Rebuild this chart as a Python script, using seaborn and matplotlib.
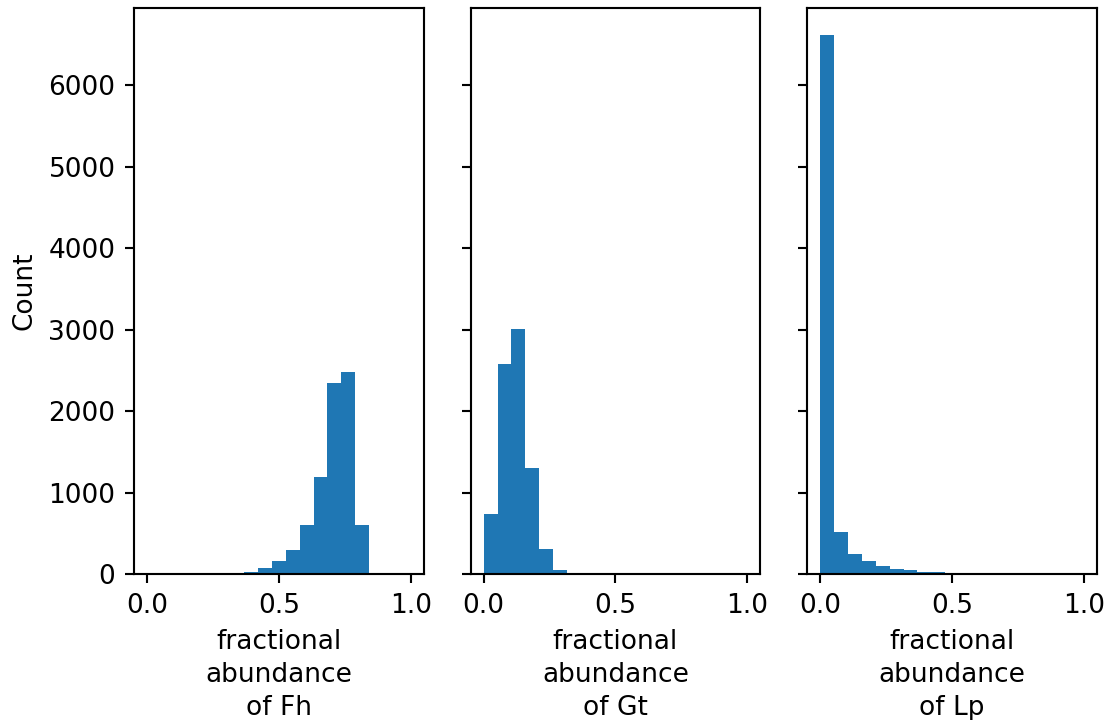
import numpy as np
import pandas as pd
import matplotlib
matplotlib.use("Agg")
import matplotlib.pyplot as plt
import seaborn as sns

# 19 equal bins spanning 0..1
n_bins = 19
bin_range = (0.0, 1.0)

minerals = ["Fh", "Gt", "Lp"]
counts_fh = [0, 0, 0, 0, 8, 3, 15, 25, 77, 160, 295, 600, 1190, 2345, 2480, 600, 0, 0, 0]
counts_gt = [735, 2575, 3002, 1307, 302, 45, 0, 0, 0, 0, 0, 0, 0, 0, 0, 0, 0, 0, 0]
counts_lp = [6618, 517, 240, 165, 95, 62, 50, 28, 25, 12, 12, 12, 10, 10, 0, 0, 0, 0, 0]
all_counts = [counts_fh, counts_gt, counts_lp]

s = 1.27
plt.rcParams.update({
    "font.family": ["DejaVu Sans"],
    "font.size": 10 * s,
    "axes.linewidth": 0.8 * s,
    "xtick.major.size": 3.5 * s,
    "ytick.major.size": 3.5 * s,
    "xtick.major.width": 0.8 * s,
    "ytick.major.width": 0.8 * s,
    "xtick.major.pad": 3.5 * s,
    "ytick.major.pad": 3.5 * s,
    "axes.labelpad": 4.0 * s,
})

edges = np.linspace(bin_range[0], bin_range[1], n_bins + 1)
centers = (edges[:-1] + edges[1:]) / 2

fig, axes = plt.subplots(1, 3, sharey=True, figsize=(7.4, 4.8), dpi=150)
fig.subplots_adjust(left=0.1207, right=0.9883, bottom=0.2028, top=0.9889, wspace=0.161)

for ax, name, counts in zip(axes, minerals, all_counts):
    df = pd.DataFrame({"x": centers, "w": counts})
    sns.histplot(data=df, x="x", weights="w", bins=n_bins, binrange=bin_range, ax=ax,
                 color="#1f77b4", alpha=1, linewidth=0)
    ax.set_xlabel(f"fractional\nabundance\nof {name}", linespacing=1.35)
    ax.set_xticks([0.0, 0.5, 1.0])
    ax.set_xlim(-0.05, 1.05)
    if ax is not axes[0]:
        ax.set_ylabel("")
        ax.tick_params(labelleft=False)
    else:
        ax.set_ylabel("Count")

axes[0].set_ylim(0, 6949)
axes[0].set_yticks([0, 1000, 2000, 3000, 4000, 5000, 6000])

fig.savefig("out.png", dpi=150)
